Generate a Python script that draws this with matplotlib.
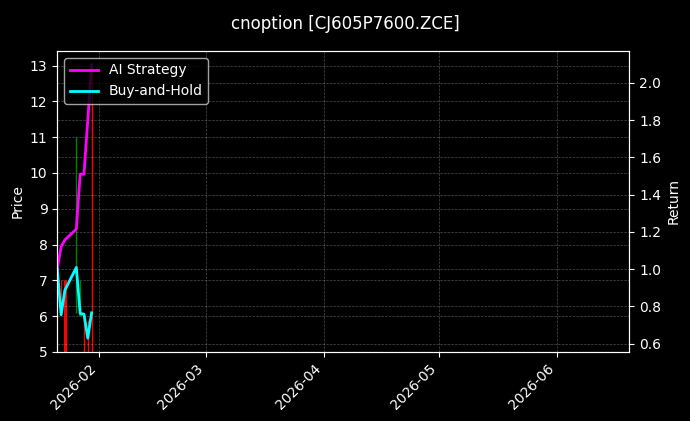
import pandas as pd
import matplotlib
matplotlib.use('Agg')
import matplotlib.pyplot as plt
import matplotlib.dates as mdates

plt.style.use('dark_background')

# Daily bars for the option contract
dates = pd.to_datetime(['2026-01-21', '2026-01-22', '2026-01-23', '2026-01-26',
                        '2026-01-27', '2026-01-28', '2026-01-29', '2026-01-30'])
open_px = [7.6, 7.0, 7.0, 7.30, 6.0, 6.0, 5.9, 13.0]
high_px = [7.6, 7.0, 7.0, 11.0, 7.0, 6.0, 5.9, 13.0]
low_px = [7.6, 6.0, 0.0, 6.1, 6.0, 0.0, 0.0, 0.0]
close_px = [7.6, 7.0, 4.0, 7.35, 6.05, 6.0, 5.9, 13.0]

# Cumulative returns
ai_strategy = [1.0, 1.12, 1.157, 1.215, 1.51, 1.51, 1.80, 2.098]
buy_hold = [1.0, 0.755, 0.887, 1.009, 0.762, 0.758, 0.629, 0.765]

x_start = pd.Timestamp('2026-01-21')
x_end = pd.Timestamp('2026-06-20')

fig, ax1 = plt.subplots(figsize=(6.9, 4.21), dpi=100)
fig.subplots_adjust(left=0.083, right=0.912, top=0.879, bottom=0.164)

colors = ['green' if c > o else 'red' for o, c in zip(open_px, close_px)]
ax1.vlines(dates, low_px, high_px, colors=colors, linewidth=1)
ax1.vlines(dates, open_px, close_px, colors=colors, linewidth=2.2)
ax1.set_ylabel('Price')
ax1.set_ylim(5, 13.41)
ax1.grid(True, linestyle='--', linewidth=0.5, alpha=0.3)

ax2 = ax1.twinx()
ax2.plot(dates, ai_strategy, color='#ff00ff', linewidth=2, label='AI Strategy')
ax2.plot(dates, buy_hold, color='#00ffff', linewidth=2, label='Buy-and-Hold')
ax2.set_ylabel('Return')
ax2.set_ylim(0.555, 2.172)
ax2.grid(True, linestyle='--', linewidth=0.5, alpha=0.3)
ax2.legend(loc='upper left')

ax1.set_xlim(x_start, x_end)
ax1.xaxis.set_major_locator(mdates.MonthLocator())
ax1.xaxis.set_major_formatter(mdates.DateFormatter('%Y-%m'))
plt.setp(ax1.get_xticklabels(), rotation=45, ha='right')

fig.suptitle('cnoption [CJ605P7600.ZCE]', fontsize=12, y=0.965)

fig.savefig('out.png', dpi=100)
